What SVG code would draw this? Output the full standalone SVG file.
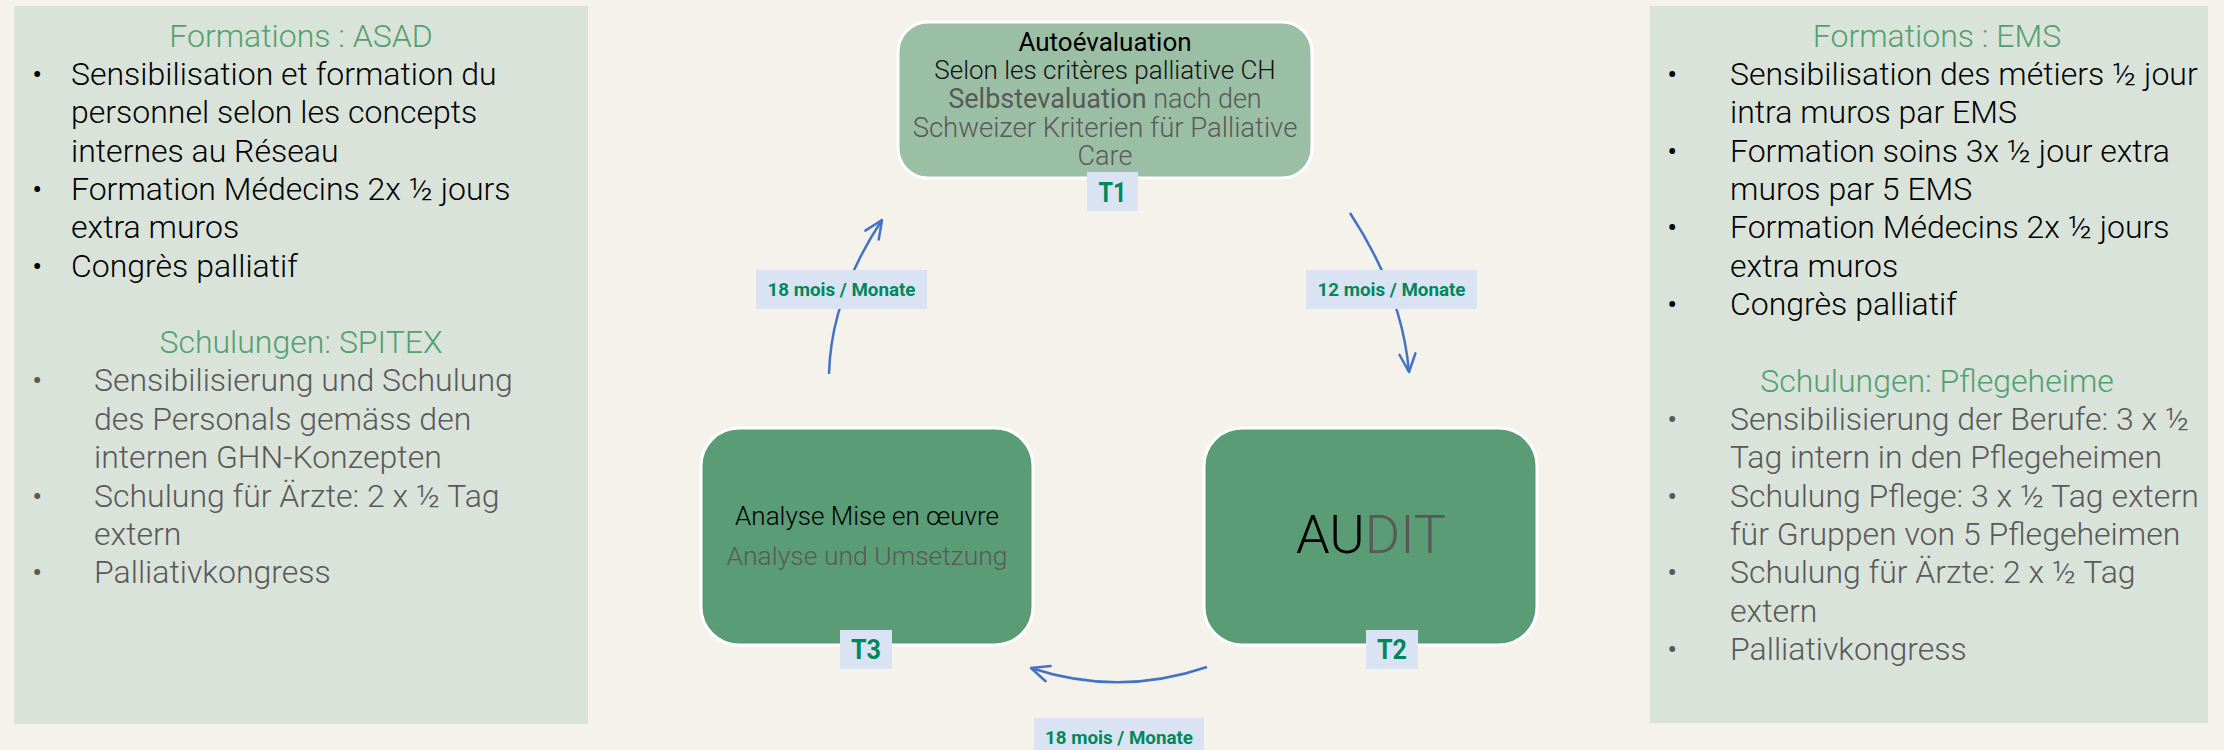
<svg xmlns="http://www.w3.org/2000/svg" width="2224" height="750" viewBox="0 0 2224 750">
<defs>
<style>
.t{font-family:Roboto,"Liberation Sans",sans-serif;font-weight:300}
.fr{font-size:32px;fill:#000}
.de{font-size:32px;fill:#595959}
.h{font-size:32px;fill:#52a070;text-anchor:middle}
.b{font-size:32px}
.panel{fill:#d9e3da}
.stage{fill:#599c75;stroke:#fff;stroke-width:3}
.lbl{fill:#dae3f3}
.lt{font-family:Roboto,"Liberation Sans",sans-serif;font-weight:700;fill:#00875a;text-anchor:middle}
.conn{fill:none;stroke:#4472c4;stroke-width:2.5;marker-end:url(#ah)}
.mid{text-anchor:middle}
</style>
<marker id="ah" markerUnits="userSpaceOnUse" viewBox="0 0 22 20" markerWidth="22" markerHeight="20" refX="20" refY="10" orient="auto">
<path d="M2,2 L20,10 L2,18" fill="none" stroke="#4472c4" stroke-width="2.5" stroke-linecap="round" stroke-linejoin="round"/>
</marker>
</defs>
<rect width="2224" height="750" fill="#f5f2ec"/>

<g id="panel-left">
<rect class="panel" x="14" y="6" width="574" height="718"/>
<text class="t h" x="301" y="47">Formations : ASAD</text>
<g class="t fr">
<text class="b" x="32" y="85">•</text>
<text x="71" y="85">Sensibilisation et formation du</text>
<text x="71" y="123">personnel selon les concepts</text>
<text x="71" y="162">internes au Réseau</text>
<text class="b" x="32" y="200">•</text>
<text x="71" y="200">Formation Médecins 2x ½ jours</text>
<text x="71" y="238">extra muros</text>
<text class="b" x="32" y="277">•</text>
<text x="71" y="277">Congrès palliatif</text>
</g>
<text class="t h" x="301" y="353">Schulungen: SPITEX</text>
<g class="t de">
<text x="32" y="391">•</text>
<text x="94" y="391">Sensibilisierung und Schulung</text>
<text x="94" y="430">des Personals gemäss den</text>
<text x="94" y="468">internen GHN-Konzepten</text>
<text x="32" y="507">•</text>
<text x="94" y="507">Schulung für Ärzte: 2 x ½ Tag</text>
<text x="94" y="545">extern</text>
<text x="32" y="583">•</text>
<text x="94" y="583">Palliativkongress</text>
</g>
</g>

<g id="panel-right">
<rect class="panel" x="1650" y="6" width="558" height="717"/>
<text class="t h" x="1937" y="47">Formations : EMS</text>
<g class="t fr">
<text x="1667" y="85">•</text>
<text x="1730" y="85">Sensibilisation des métiers ½ jour</text>
<text x="1730" y="123">intra muros par EMS</text>
<text x="1667" y="162">•</text>
<text x="1730" y="162">Formation soins 3x ½ jour extra</text>
<text x="1730" y="200">muros par 5 EMS</text>
<text x="1667" y="238">•</text>
<text x="1730" y="238">Formation Médecins 2x ½ jours</text>
<text x="1730" y="277">extra muros</text>
<text x="1667" y="315">•</text>
<text x="1730" y="315">Congrès palliatif</text>
</g>
<text class="t h" x="1937" y="392">Schulungen: Pflegeheime</text>
<g class="t de">
<text x="1667" y="430">•</text>
<text x="1730" y="430">Sensibilisierung der Berufe: 3 x ½</text>
<text x="1730" y="468">Tag intern in den Pflegeheimen</text>
<text x="1667" y="507">•</text>
<text x="1730" y="507">Schulung Pflege: 3 x ½ Tag extern</text>
<text x="1730" y="545">für Gruppen von 5 Pflegeheimen</text>
<text x="1667" y="583">•</text>
<text x="1730" y="583">Schulung für Ärzte: 2 x ½ Tag</text>
<text x="1730" y="622">extern</text>
<text x="1667" y="660">•</text>
<text x="1730" y="660">Palliativkongress</text>
</g>
</g>

<g id="connectors">
<path class="conn" d="M829,374 Q831,297 882,220"/>
<path class="conn" d="M1350,213 Q1402,292 1409,372"/>
<path class="conn" d="M1207,667 Q1119,697 1031,668"/>
<rect class="lbl" x="756" y="270" width="171" height="39"/>
<text class="lt" x="841.5" y="296" font-size="18" textLength="148" lengthAdjust="spacingAndGlyphs">18 mois / Monate</text>
<rect class="lbl" x="1306" y="270" width="171" height="39"/>
<text class="lt" x="1391.5" y="296" font-size="18" textLength="148" lengthAdjust="spacingAndGlyphs">12 mois / Monate</text>
<rect class="lbl" x="1034" y="718" width="170" height="40"/>
<text class="lt" x="1119" y="744" font-size="18" textLength="148" lengthAdjust="spacingAndGlyphs">18 mois / Monate</text>
</g>

<g id="node-t1">
<rect x="898" y="22" width="414" height="156" rx="30" fill="#9bbfa5" stroke="#fff" stroke-width="3"/>
<g class="t mid">
<text x="1105" y="51" fill="#000" font-weight="400" font-size="26">Autoévaluation</text>
<text x="1105" y="79" fill="#111" font-size="26">Selon les critères palliative CH</text>
<text x="1105" y="108" fill="#595959" font-size="27"><tspan font-weight="400">Selbstevaluation</tspan> nach den</text>
<text x="1105" y="137" fill="#595959" font-size="27.5">Schweizer Kriterien für Palliative</text>
<text x="1105" y="165" fill="#595959" font-size="27">Care</text>
</g>
<rect class="lbl" x="1087" y="172" width="51" height="39"/>
<text class="lt" x="1112.5" y="202" font-size="27" textLength="28" lengthAdjust="spacingAndGlyphs">T1</text>
</g>

<g id="node-t2">
<rect class="stage" x="1204" y="428" width="333" height="217" rx="38"/>
<text class="t mid" x="1371" y="553" font-size="54"><tspan fill="#000">AU</tspan><tspan fill="#595959">DIT</tspan></text>
<rect class="lbl" x="1366" y="630" width="52" height="39"/>
<text class="lt" x="1392" y="659" font-size="27" textLength="30" lengthAdjust="spacingAndGlyphs">T2</text>
</g>

<g id="node-t3">
<rect class="stage" x="701" y="428" width="332" height="217" rx="38"/>
<text class="t mid" x="867" y="525" font-size="26" fill="#000">Analyse Mise en œuvre</text>
<text class="t mid" x="867" y="565" font-size="26.5" fill="#595959">Analyse und Umsetzung</text>
<rect class="lbl" x="840" y="630" width="52" height="39"/>
<text class="lt" x="866" y="659" font-size="27" textLength="30" lengthAdjust="spacingAndGlyphs">T3</text>
</g>
</svg>
